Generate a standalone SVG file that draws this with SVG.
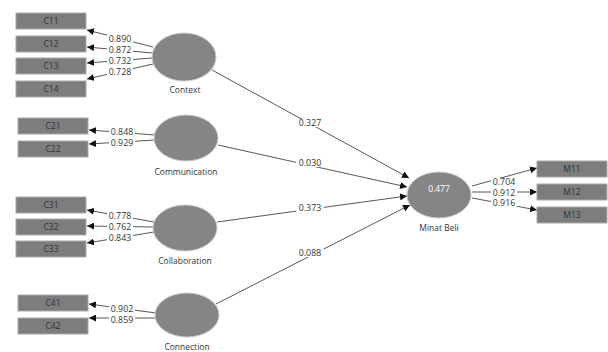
<svg xmlns="http://www.w3.org/2000/svg" width="608" height="352" viewBox="0 0 608 352">
<defs>
<marker id="ah" viewBox="0 0 10 10" refX="10" refY="5" markerWidth="7" markerHeight="7" markerUnits="userSpaceOnUse" orient="auto">
<path d="M0,0 L10,5 L0,10 z" fill="#111"/>
</marker>
<style>
.box{fill:#7d7d7d;stroke:#aaa;stroke-width:1}
.bt{font-family:"Open Sans","Liberation Sans",sans-serif;font-size:8.5px;fill:#333;text-anchor:middle}
.ell{fill:#858585;stroke:#c8c8c8;stroke-width:1}
.nl{font-family:"Open Sans","Liberation Sans",sans-serif;font-size:8.5px;fill:#333;text-anchor:middle}
.ln{stroke:#444;stroke-width:0.9;fill:none;marker-end:url(#ah)}
.bg{fill:#fff}
.lab{font-family:"Open Sans","Liberation Sans",sans-serif;font-size:8.8px;fill:#333;text-anchor:middle}
</style>
</defs>
<rect width="608" height="352" fill="#fff"/>
<g id="connectors">
<line class="ln" x1="153" y1="47" x2="87" y2="30"/>
<line class="ln" x1="152" y1="53" x2="87" y2="47"/>
<line class="ln" x1="152" y1="58" x2="87" y2="63"/>
<line class="ln" x1="153" y1="64" x2="87" y2="79"/>
<line class="ln" x1="155" y1="135" x2="89" y2="130"/>
<line class="ln" x1="155" y1="140" x2="89" y2="144"/>
<line class="ln" x1="154" y1="222" x2="87" y2="210"/>
<line class="ln" x1="154" y1="227" x2="87" y2="226"/>
<line class="ln" x1="154" y1="232" x2="87" y2="243"/>
<line class="ln" x1="156" y1="313" x2="89" y2="304"/>
<line class="ln" x1="156" y1="318" x2="89" y2="318"/>
<line class="ln" x1="472" y1="186" x2="537" y2="168"/>
<line class="ln" x1="472" y1="192" x2="537" y2="192"/>
<line class="ln" x1="472" y1="198" x2="537" y2="210"/>
<line class="ln" x1="212" y1="70" x2="409" y2="178"/>
<line class="ln" x1="218" y1="145" x2="407" y2="187"/>
<line class="ln" x1="217" y1="222" x2="407" y2="196"/>
<line class="ln" x1="216" y1="304" x2="410" y2="205"/>
<g class="bg">
<rect x="107" y="35" width="26" height="8"/>
<rect x="107" y="46" width="26" height="8"/>
<rect x="107" y="57" width="26" height="8"/>
<rect x="107" y="68" width="26" height="8"/>
<rect x="109" y="128" width="26" height="8"/>
<rect x="109" y="139" width="26" height="8"/>
<rect x="107" y="212" width="26" height="8"/>
<rect x="107" y="222.5" width="26" height="8"/>
<rect x="107" y="234" width="26" height="8"/>
<rect x="109" y="305" width="26" height="8"/>
<rect x="109" y="315.5" width="26" height="8"/>
<rect x="491" y="178" width="26" height="8"/>
<rect x="491" y="188.5" width="26" height="8"/>
<rect x="491" y="199" width="26" height="8"/>
<rect x="296" y="119" width="28" height="8"/>
<rect x="296" y="159" width="28" height="8"/>
<rect x="296" y="204" width="28" height="8"/>
<rect x="296" y="249" width="28" height="8"/>
</g>
<text class="lab" x="120" y="42">0.890</text>
<text class="lab" x="120" y="53">0.872</text>
<text class="lab" x="120" y="64">0.732</text>
<text class="lab" x="120" y="75">0.728</text>
<text class="lab" x="122" y="135">0.848</text>
<text class="lab" x="122" y="146">0.929</text>
<text class="lab" x="120" y="219">0.778</text>
<text class="lab" x="120" y="229.5">0.762</text>
<text class="lab" x="120" y="241">0.843</text>
<text class="lab" x="122" y="312">0.902</text>
<text class="lab" x="122" y="322.5">0.859</text>
<text class="lab" x="504" y="185">0.704</text>
<text class="lab" x="504" y="195.5">0.912</text>
<text class="lab" x="504" y="206">0.916</text>
<text class="lab" x="310" y="126">0.327</text>
<text class="lab" x="310" y="166">0.030</text>
<text class="lab" x="310" y="211">0.373</text>
<text class="lab" x="310" y="256">0.088</text>
</g>
<g id="C11"><rect class="box" x="16" y="13" width="70" height="16"/><text class="bt" x="51" y="24">C11</text></g>
<g id="C12"><rect class="box" x="16" y="36" width="70" height="16"/><text class="bt" x="51" y="47">C12</text></g>
<g id="C13"><rect class="box" x="16" y="58" width="70" height="16"/><text class="bt" x="51" y="69">C13</text></g>
<g id="C14"><rect class="box" x="16" y="81" width="70" height="16"/><text class="bt" x="51" y="92">C14</text></g>
<g id="C21"><rect class="box" x="18" y="118" width="70" height="16"/><text class="bt" x="53" y="129">C21</text></g>
<g id="C22"><rect class="box" x="18" y="141" width="70" height="16"/><text class="bt" x="53" y="152">C22</text></g>
<g id="C31"><rect class="box" x="16" y="197" width="70" height="16"/><text class="bt" x="51" y="208">C31</text></g>
<g id="C32"><rect class="box" x="16" y="219" width="70" height="16"/><text class="bt" x="51" y="230">C32</text></g>
<g id="C33"><rect class="box" x="16" y="241" width="70" height="16"/><text class="bt" x="51" y="252">C33</text></g>
<g id="C41"><rect class="box" x="18" y="295" width="70" height="16"/><text class="bt" x="53" y="306">C41</text></g>
<g id="C42"><rect class="box" x="18" y="318" width="70" height="16"/><text class="bt" x="53" y="329">C42</text></g>
<g id="M11"><rect class="box" x="537" y="161" width="70" height="16"/><text class="bt" x="572" y="172">M11</text></g>
<g id="M12"><rect class="box" x="537" y="184" width="70" height="16"/><text class="bt" x="572" y="195">M12</text></g>
<g id="M13"><rect class="box" x="537" y="207" width="70" height="16"/><text class="bt" x="572" y="218">M13</text></g>
<g id="Context"><ellipse class="ell" cx="184" cy="57" rx="32" ry="24"/><text class="nl" x="185" y="93">Context</text></g>
<g id="Communication"><ellipse class="ell" cx="186" cy="138" rx="32" ry="23"/><text class="nl" x="186" y="175">Communication</text></g>
<g id="Collaboration"><ellipse class="ell" cx="185" cy="228" rx="32" ry="23"/><text class="nl" x="185" y="264">Collaboration</text></g>
<g id="Connection"><ellipse class="ell" cx="187" cy="315" rx="32" ry="22"/><text class="nl" x="187" y="350">Connection</text></g>
<g id="MinatBeli"><ellipse class="ell" cx="439" cy="195" rx="32" ry="23"/><text class="nl" x="439" y="192" style="fill:#fff">0.477</text><text class="nl" x="439" y="231">Minat Beli</text></g>
</svg>
